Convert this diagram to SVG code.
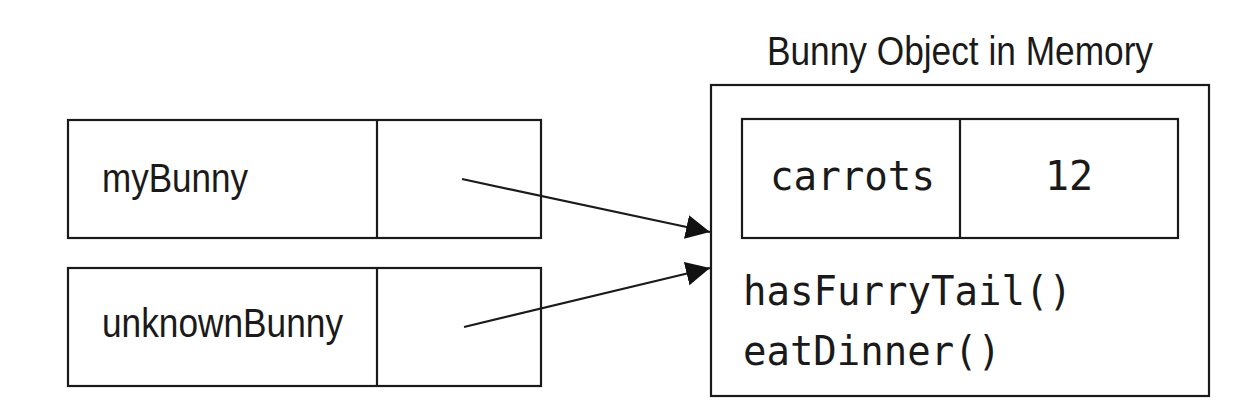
<svg xmlns="http://www.w3.org/2000/svg" width="1242" height="416" viewBox="0 0 1242 416">
<style>
.box{fill:none;stroke:#1a1a1a;stroke-width:2.2}
.lbl{font-family:"Liberation Sans",Arial,sans-serif;font-size:41px;fill:#1a1a1a}
.mono{font-family:"DejaVu Sans Mono","Liberation Mono",monospace;font-size:40px;fill:#1a1a1a}
.conn{stroke:#1a1a1a;stroke-width:2.2;fill:none}
</style>
<defs>
<marker id="arr" markerUnits="userSpaceOnUse" markerWidth="26" markerHeight="26" refX="24" refY="12" orient="auto">
<path d="M0,0 L24,12 L0,24 Z" fill="#111"/>
</marker>
</defs>
<rect width="1242" height="416" fill="#fff"/>
<g id="myBunny">
<rect class="box" x="68" y="120" width="473" height="118"/>
<line class="box" x1="377" y1="120" x2="377" y2="238"/>
<text class="lbl" x="102" y="192" textLength="146" lengthAdjust="spacingAndGlyphs">myBunny</text>
</g>
<g id="unknownBunny">
<rect class="box" x="68" y="268" width="473" height="118"/>
<line class="box" x1="377" y1="268" x2="377" y2="386"/>
<text class="lbl" x="102" y="337" textLength="241" lengthAdjust="spacingAndGlyphs">unknownBunny</text>
</g>
<g id="bunnyObject">
<text class="lbl" x="767" y="65" textLength="386" lengthAdjust="spacingAndGlyphs">Bunny Object in Memory</text>
<rect class="box" x="711" y="85" width="498" height="311"/>
<rect class="box" x="742" y="119" width="436" height="119"/>
<line class="box" x1="960" y1="119" x2="960" y2="238"/>
<text class="mono" x="770" y="190" textLength="165" lengthAdjust="spacingAndGlyphs">carrots</text>
<text class="mono" x="1069" y="190" text-anchor="middle">12</text>
<text class="mono" x="743" y="305" textLength="329" lengthAdjust="spacingAndGlyphs">hasFurryTail()</text>
<text class="mono" x="743" y="365" textLength="258" lengthAdjust="spacingAndGlyphs">eatDinner()</text>
</g>
<g id="connectors">
<line class="conn" x1="462" y1="179" x2="710" y2="232" marker-end="url(#arr)"/>
<line class="conn" x1="464" y1="327" x2="710" y2="268" marker-end="url(#arr)"/>
</g>
</svg>
